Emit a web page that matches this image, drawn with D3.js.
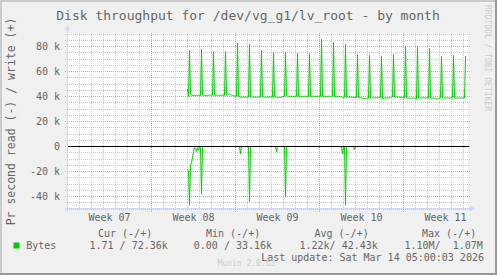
<!DOCTYPE html>
<html>
<head>
<meta charset="utf-8">
<script src="https://cdn.jsdelivr.net/npm/d3@7"></script>
<style>
  body { margin: 0; background: #f0f0f0; }
  svg text { font-family: "DejaVu Sans Mono", monospace; fill: #666666; }
</style>
</head>
<body>
<svg id="munin" width="497" height="275"></svg>
<script>
// 2-hour averages starting Feb 19 2026 00:00, kB/s (one row per day)
let writeK = [
  46, 40, 76.8, 42, 41.2, 40.8, 40.8, 41, 40.8, 41, 40.9, 41,
  41, 40.8, 77.6, 41.3, 41, 40.8, 41, 41, 40.8, 41, 41.2, 41,
  41, 41, 76, 41.2, 40.8, 41, 41, 41.2, 41, 40.8, 41, 41,
  41.2, 41, 76, 41.5, 41.4, 42, 42, 41.6, 41.2, 40.8, 40.6, 40.4,
  40.4, 40.2, 82.7, 40.2, 39.8, 39.6, 39.4, 39.5, 39.4, 39.6, 39.5, 39.4,
  39.4, 39.5, 81.6, 39.6, 39.5, 39.4, 39.6, 39.5, 39.5, 39.4, 39.6, 39.6,
  39.5, 39.6, 76.8, 39.8, 39.6, 39.5, 39.6, 39.4, 39.5, 39.6, 39.5, 39.8,
  39.6, 39.5, 75.2, 39.8, 39.8, 39.6, 39, 39, 39.2, 39, 39.4, 39.8,
  40, 40, 75.2, 40.8, 40.6, 40.2, 40.2, 40, 40.2, 40.2, 40, 40.2,
  40.2, 40, 74.7, 40.2, 40.2, 40, 40.2, 40.2, 40, 40.2, 40.2, 40,
  40.2, 40, 74.4, 40.2, 40, 40.2, 40, 40.2, 40.2, 40, 40.2, 40.2,
  40.2, 40, 85.6, 40.2, 40.2, 40, 40.2, 40.2, 40, 40.2, 40.2, 40,
  40.2, 40.2, 83.2, 40, 40.2, 40.2, 40, 40.2, 40, 40, 39.5, 39,
  38.8, 39.2, 81.6, 39.4, 39.6, 39.5, 39.5, 39.4, 39.5, 39.4, 39.2, 39.2,
  39.2, 39, 73.6, 39.2, 39, 39, 38.8, 38.6, 38.6, 38.4, 38.4, 38.4,
  38.6, 38.6, 72.8, 38.8, 38.8, 39, 39, 39, 38.8, 39, 39, 39,
  39, 39, 72, 38, 38.2, 38.8, 38.8, 38.8, 39, 38.8, 39, 39.2,
  39.5, 39.6, 73.6, 39.6, 39.5, 39.6, 39.5, 39.6, 39.6, 39.5, 39.4, 39,
  39, 38.8, 80, 39, 38.8, 38.8, 38.6, 38.6, 38.6, 38.8, 38.8, 38.6,
  38.2, 38, 79.2, 38.6, 38.8, 38.8, 38.8, 39, 38.8, 38.8, 38.8, 38.8,
  38.8, 38.6, 78.4, 38.8, 38.8, 38.6, 38.8, 38.8, 38.6, 38.2, 38, 38.2,
  38.6, 38.8, 72, 38.8, 38.6, 38.8, 38.8, 38.8, 38.8, 38.8, 38.6, 38.8,
  38.6, 38.8, 72.8, 38.8, 38.8, 38.8, 38.8, 38.8, 38.6, 38.8, 38.8, 38.8,
  38.8, 38.8, 72.36
];

let readK = [
  18, 20, 47, 15, 13, 9, 4, 1, 2, 4, 1, 3,
  0.5, 1, 38, 0, 0, 0, 0, 0, 0, 0, 0, 0,
  0, 0, 0, 0, 0, 0, 0, 0, 0, 0, 0, 0,
  0, 0, 0, 0, 0, 0, 0, 0, 0, 0, 0, 0,
  0, 0, 0, 0, 0, 6, 0, 0, 0, 0, 0, 0,
  0, 0, 44, 0, 0, 0, 0, 0, 0, 0, 0, 0,
  0, 0, 0, 0, 0, 0, 0, 0, 0, 0, 0, 0,
  0, 0, 0, 0, 0, 4.5, 0, 0, 0, 0, 0, 0,
  0, 0, 40.5, 0, 0, 0, 0, 0, 0, 0, 0, 0,
  0, 0, 0, 0, 0, 0, 0, 0, 0, 0, 0, 0,
  0, 0, 0, 0, 0, 0, 0, 0, 0, 0, 0, 0,
  0, 0, 0, 0, 0, 0, 0, 0, 0, 0, 0, 0,
  0, 0, 0, 0, 0, 0, 0, 0, 0, 0, 0, 6,
  1, 0, 47, 0, 0, 0, 0, 0, 0, 0, 0, 2.7,
  0, 0, 0, 0, 0, 0, 0, 0, 0, 0, 0, 0,
  0, 0, 0, 0, 0, 0, 0, 0, 0, 0, 0, 0,
  0, 0, 0, 0, 0, 0, 0, 0, 0, 0, 0, 0,
  0, 0, 0, 0, 0, 0, 0, 0, 0, 0, 0, 0,
  0, 0, 0, 0, 0, 0, 0, 0, 0, 0, 0, 0,
  0, 0, 0, 0, 0, 0, 0, 0, 0, 0, 0, 0,
  0, 0, 0, 0, 0, 0, 0, 0, 0, 0, 0, 0,
  0, 0, 0, 0, 0, 0, 0, 0, 0, 0, 0, 0,
  0, 0, 0, 0, 0, 0, 0, 0, 0, 0, 0, 0,
  0, 0, 0.0017
];

let weekStarts = [new Date(2026, 1, 9), new Date(2026, 1, 16), new Date(2026, 1, 23),
                  new Date(2026, 2, 2), new Date(2026, 2, 9)];
let weekLabels = ["Week 07", "Week 08", "Week 09", "Week 10", "Week 11"];

let yTicks = [-40000, -20000, 0, 20000, 40000, 60000, 80000];
let yTickLabels = ["-40 k", "-20 k", "0", "20 k", "40 k", "60 k", "80 k"];

let legendHeads = ["Cur (-/+)", "Min (-/+)", "Avg (-/+)", "Max (-/+)"];
let legendVals = ["1.71 / 72.36k", "0.00 / 33.16k", "1.22k/ 42.43k", "1.10M/  1.07M"];

let firstSample = new Date(2026, 1, 19, 0);
let svg = d3.select("#munin");

let x = d3.scaleTime()
    .domain([new Date(2026, 1, 9, 0), new Date(2026, 2, 14, 8)])
    .range([67.5, 467.5]);
let y = d3.scaleLinear().domain([-50000, 90000]).range([209, 34]);

let x0 = 67.5, x1 = 467.5, yTop = 34, yBot = 208.5;

// frame
svg.append("rect").attr("width", 497).attr("height", 275).attr("fill", "#f0f0f0");
svg.append("path").attr("d", "M0,275 V0 H497 V2 H2 V275 Z").attr("fill", "#cbcbcb");
svg.append("path").attr("d", "M497,0 V275 H0 V273 H495 V0 Z").attr("fill", "#999999");

// canvas
svg.append("rect").attr("x", 67).attr("y", 33).attr("width", 401).attr("height", 176).attr("fill", "#ffffff");

let grid = svg.append("g").attr("shape-rendering", "crispEdges").attr("stroke-dasharray", "1,1");

// minor grid
grid.selectAll(".minx")
    .data(d3.timeDay.range(x.domain()[0], x.domain()[1]))
    .enter().append("line")
    .attr("x1", d => Math.round(x(d) - 0.5) + 0.5).attr("x2", d => Math.round(x(d) - 0.5) + 0.5)
    .attr("y1", yTop - 1).attr("y2", yBot + 2)
    .attr("stroke", "#c8c8c8");
grid.selectAll(".miny")
    .data(d3.range(-50000, 90001, 5000))
    .enter().append("line")
    .attr("x1", x0 - 3).attr("x2", x1 + 2)
    .attr("y1", d => Math.round(y(d) - 0.5) + 0.5).attr("y2", d => Math.round(y(d) - 0.5) + 0.5)
    .attr("stroke", "#c8c8c8");

// major grid
grid.selectAll(".majx")
    .data(weekStarts)
    .enter().append("line")
    .attr("x1", d => Math.round(x(d) - 0.5) + 0.5).attr("x2", d => Math.round(x(d) - 0.5) + 0.5)
    .attr("y1", yTop - 1).attr("y2", yBot + 3)
    .attr("stroke", "#ec9a9a");
grid.selectAll(".majy")
    .data(yTicks)
    .enter().append("line")
    .attr("x1", x0 - 3).attr("x2", x1 + 2)
    .attr("y1", d => Math.round(y(d) - 0.5) + 0.5).attr("y2", d => Math.round(y(d) - 0.5) + 0.5)
    .attr("stroke", "#ec9a9a");

// series
let writePts = writeK.map((v, i) => ({t: d3.timeHour.offset(firstSample, 2 * i), v: v * 1000}));
let readPts = readK.map((v, i) => ({t: d3.timeHour.offset(firstSample, 2 * i), v: -v * 1000}));

let line = d3.line().x(d => x(d.t)).y(d => y(d.v));

svg.append("path").datum(readPts)
    .attr("d", line).attr("fill", "none")
    .attr("stroke", "#00cc00").attr("stroke-width", 1);
svg.append("path").datum(writePts)
    .attr("d", line).attr("fill", "none")
    .attr("stroke", "#00cc00").attr("stroke-width", 1);

// zero rule
svg.append("line")
    .attr("x1", x0).attr("x2", x1 + 1)
    .attr("y1", Math.round(y(0) - 0.5) + 0.5).attr("y2", Math.round(y(0) - 0.5) + 0.5)
    .attr("stroke", "#000000").attr("shape-rendering", "crispEdges");

// axes and arrows
let axisCol = "#cfd6f8";
svg.append("line").attr("x1", x0).attr("x2", x0).attr("y1", yBot + 3).attr("y2", 28)
    .attr("stroke", axisCol).attr("shape-rendering", "crispEdges");
svg.append("line").attr("x1", x0 - 3).attr("x2", 472).attr("y1", yBot).attr("y2", yBot)
    .attr("stroke", axisCol).attr("shape-rendering", "crispEdges");
svg.append("path").attr("d", `M${x0 - 3},30 L${x0},25 L${x0 + 3},30 Z`).attr("fill", axisCol);
svg.append("path").attr("d", `M470,${yBot - 3} L475,${yBot} L470,${yBot + 3} Z`).attr("fill", axisCol);

// y tick labels
svg.selectAll(".ylab")
    .data(yTicks)
    .enter().append("text")
    .attr("x", 60).attr("y", d => y(d) + 3.5)
    .attr("text-anchor", "end").attr("font-size", "10px")
    .text((d, i) => yTickLabels[i]);

// x labels at mid week
svg.selectAll(".xlab")
    .data(weekStarts)
    .enter().append("text")
    .attr("x", d => x(d3.timeHour.offset(d, 84)))
    .attr("y", 221)
    .attr("text-anchor", "middle").attr("font-size", "10px")
    .text((d, i) => weekLabels[i]);

// title and vertical label
svg.append("text").attr("x", 248).attr("y", 20)
    .attr("text-anchor", "middle").attr("font-size", "13px").attr("fill", "#555555")
    .text("Disk throughput for /dev/vg_g1/lv_root - by month");
svg.append("text")
    .attr("transform", "translate(15,121.5) rotate(-90)")
    .attr("text-anchor", "middle").attr("font-size", "11.5px")
    .text("Pr second read (-) / write (+)");

// legend
let colX = [98, 206, 314.5, 422];
let valX = [89.5, 193.8, 299.5, 404.5];
svg.selectAll(".lhead")
    .data(legendHeads)
    .enter().append("text")
    .attr("x", (d, i) => colX[i]).attr("y", 237)
    .attr("font-size", "10px").attr("xml:space", "preserve")
    .text(d => d);
svg.append("rect").attr("x", 13.5).attr("y", 242.5).attr("width", 6).attr("height", 6).attr("fill", "#00cc00");
svg.append("text").attr("x", 26.2).attr("y", 248.5).attr("font-size", "10px").text("Bytes");
svg.selectAll(".lval")
    .data(legendVals)
    .enter().append("text")
    .attr("x", (d, i) => valX[i]).attr("y", 248.5)
    .attr("font-size", "10px").style("white-space", "pre")
    .text(d => d);
svg.append("text").attr("x", 261.2).attr("y", 261)
    .attr("font-size", "10px").style("white-space", "pre")
    .text("Last update: Sat Mar 14 05:00:03 2026");

// watermarks
svg.append("text").attr("x", 217.5).attr("y", 266)
    .attr("font-size", "8px").attr("fill", "#cccccc").style("fill", "#cccccc")
    .text("Munin 2.0.63");
svg.append("text")
    .attr("transform", "translate(485,5) rotate(90)")
    .attr("font-size", "8px").style("fill", "#cccccc")
    .text("RRDTOOL / TOBI OETIKER");
</script>
</body>
</html>
